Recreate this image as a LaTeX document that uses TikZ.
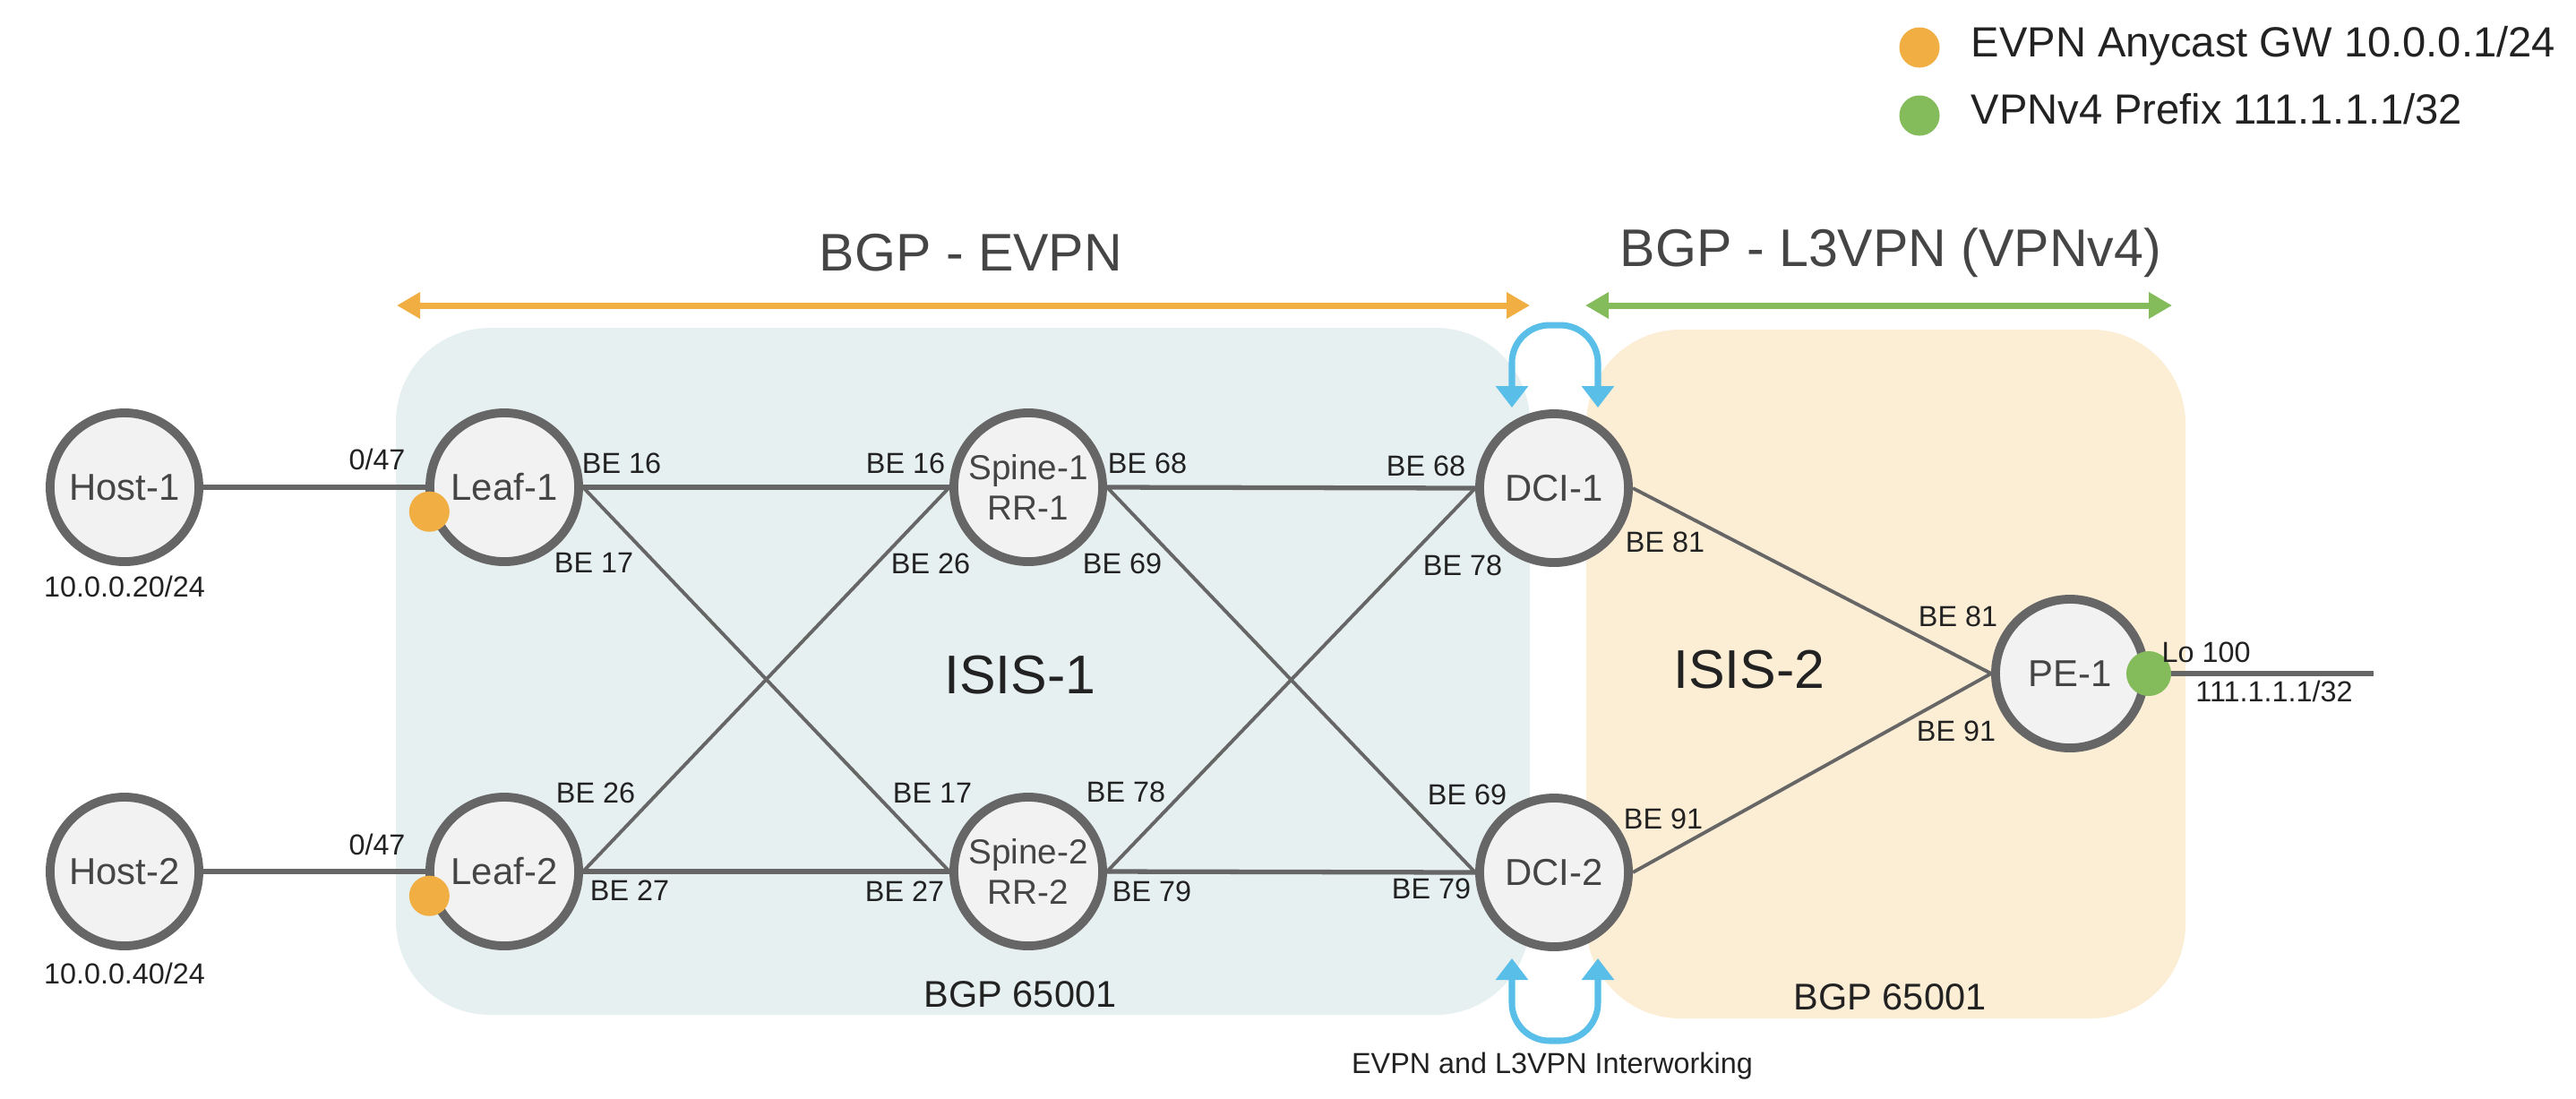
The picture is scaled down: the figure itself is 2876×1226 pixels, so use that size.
\documentclass[tikz,border=0pt]{standalone}
\usepackage{fontspec}
\setmainfont{Liberation Sans}
\usetikzlibrary{arrows.meta,calc}
\definecolor{nodegray}{HTML}{666666}
\definecolor{nodefill}{HTML}{F2F2F2}
\definecolor{evpnorange}{HTML}{F0AE43}
\definecolor{vpngreen}{HTML}{84BC5B}
\definecolor{loopblue}{HTML}{59BEE8}
\definecolor{bluezone}{HTML}{E7F0F1}
\definecolor{orangezone}{HTML}{FCEDD5}
\definecolor{textdark}{HTML}{222222}
\definecolor{textgray}{HTML}{454545}
\begin{document}
\begin{tikzpicture}[x=0.01cm,y=-0.01cm,
  router/.style={circle, draw=nodegray, line width=2.8pt, fill=nodefill, minimum size=1.66cm, inner sep=0pt,
    font=\fontsize{11.9}{13}\selectfont, text=textgray, align=center},
  spinebox/.style={router, font=\fontsize{11}{13}\selectfont},
  lbl/.style={font=\fontsize{9.2}{11}\selectfont, text=textdark, inner sep=0pt},
  zonelbl/.style={font=\fontsize{11.8}{13}\selectfont, text=textdark, inner sep=0pt},
  isislbl/.style={font=\fontsize{17.3}{19}\selectfont, text=textdark, inner sep=0pt},
  titlelbl/.style={font=\fontsize{16.8}{19}\selectfont, text=textgray, inner sep=0pt},
  legendlbl/.style={font=\fontsize{13.4}{15}\selectfont, text=textdark, inner sep=0pt},
  hlink/.style={draw=nodegray, line width=1.5pt},
  dlink/.style={draw=nodegray, line width=1.1pt},
  span/.style={line width=2pt, {Triangle[width=0.28cm,length=0.26cm]}-{Triangle[width=0.28cm,length=0.26cm]}},
  loopline/.style={draw=loopblue, line width=2pt, rounded corners=0.42cm,
    {Triangle[width=0.35cm,length=0.24cm]}-{Triangle[width=0.35cm,length=0.24cm]}},
  dot/.style={circle, inner sep=0pt, minimum size=0.45cm, draw=none}
]
\useasboundingbox (0,0) rectangle (2876,1226);

% zones
\fill[bluezone, rounded corners=1.05cm] (442,366) rectangle (1708,1133);
\fill[orangezone, rounded corners=1.05cm] (1771,368) rectangle (2440,1137);

% spans
\coordinate (evpnL) at (443,341);
\coordinate (evpnR) at (1708,341);
\coordinate (vpnL) at (1770,341);
\coordinate (vpnR) at (2425,341);
\draw[span, draw=evpnorange, fill=evpnorange] (evpnL) -- (evpnR);
\draw[span, draw=vpngreen, fill=vpngreen] (vpnL) -- (vpnR);
\node[titlelbl] (t-evpn) at (1084,282) {BGP - EVPN};
\node[titlelbl] (t-vpn) at (2111,282) {BGP - L3VPN (VPNv4)};

% routers
\node[router] (host1) at (139,544) {Host-1};
\node[router] (host2) at (139,973) {Host-2};
\node[router] (leaf1) at (563,544) {Leaf-1};
\node[router] (leaf2) at (563,973) {Leaf-2};
\node[spinebox] (spine1) at (1148,544) {Spine-1\\RR-1};
\node[spinebox] (spine2) at (1148,973) {Spine-2\\RR-2};
\node[router] (dci1) at (1735,545) {DCI-1};
\node[router] (dci2) at (1735,974) {DCI-2};
\node[router] (pe1) at (2311,752) {PE-1};
\coordinate (loend) at (2650,752);

% links
\draw[hlink] (host1.east) -- (leaf1.west);
\draw[hlink] (host2.east) -- (leaf2.west);
\draw[hlink] (leaf1.east) -- (spine1.west);
\draw[hlink] (leaf2.east) -- (spine2.west);
\draw[hlink] (spine1.east) -- (dci1.west);
\draw[hlink] (spine2.east) -- (dci2.west);
\draw[dlink] (leaf1.east) -- (spine2.west);
\draw[dlink] (leaf2.east) -- (spine1.west);
\draw[dlink] (spine1.east) -- (dci2.west);
\draw[dlink] (spine2.east) -- (dci1.west);
\draw[dlink] (dci1.east) -- (pe1.west);
\draw[dlink] (dci2.east) -- (pe1.west);
\draw[hlink] (pe1.east) -- (loend);

% interworking loops
\draw[loopline] ([xshift=-0.47cm,yshift=0.02cm]dci1.north) -- ++(0,-92) -- ++(96,0) -- ++(0,92);
\draw[loopline] ([xshift=-0.47cm,yshift=-0.08cm]dci2.south) -- ++(0,92) -- ++(96,0) -- ++(0,-92);

% dots
\node[dot, fill=evpnorange] (gw1) at (leaf1.198) {};
\node[dot, fill=evpnorange] (gw2) at (leaf2.198) {};
\node[dot, fill=vpngreen, minimum size=0.5cm] (pfx) at (pe1.east) {};

% labels
\node[lbl] (h1ip) at (139,655) {10.0.0.20/24};
\node[lbl] (h2ip) at (139,1087) {10.0.0.40/24};
\node[lbl] (p1) at (421,513) {0/47};
\node[lbl] (p2) at (421,943) {0/47};
\node[lbl] (a1) at (694,517) {BE 16};
\node[lbl] (a2) at (663,628) {BE 17};
\node[lbl] (a3) at (1011,517) {BE 16};
\node[lbl] (a4) at (1039,629) {BE 26};
\node[lbl] (a5) at (1281,517) {BE 68};
\node[lbl] (a6) at (1253,629) {BE 69};
\node[lbl] (a7) at (1592,520) {BE 68};
\node[lbl] (a8) at (1633,631) {BE 78};
\node[lbl] (a9) at (1859,605) {BE 81};
\node[lbl] (b1) at (665,885) {BE 26};
\node[lbl] (b2) at (703,994) {BE 27};
\node[lbl] (b3) at (1041,885) {BE 17};
\node[lbl] (b4) at (1010,995) {BE 27};
\node[lbl] (b5) at (1257,884) {BE 78};
\node[lbl] (b6) at (1286,995) {BE 79};
\node[lbl] (b7) at (1638,887) {BE 69};
\node[lbl] (b8) at (1598,992) {BE 79};
\node[lbl] (b9) at (1857,914) {BE 91};
\node[lbl] (c1) at (2186,688) {BE 81};
\node[lbl] (c2) at (2184,816) {BE 91};
\node[lbl, anchor=west] (lo) at (2413,728) {Lo 100};
\node[lbl] (loip) at (2539,772) {111.1.1.1/32};
\node[isislbl] (isis1) at (1139,754) {ISIS-1};
\node[isislbl] (isis2) at (1953,748) {ISIS-2};
\node[zonelbl] (as1) at (1139,1110) {BGP 65001};
\node[zonelbl] (as2) at (2110,1113) {BGP 65001};
\node[lbl] (iw) at (1733,1190) {EVPN and L3VPN Interworking};

% legend
\node[dot, fill=evpnorange] (leg1) at (2143,53) {};
\node[dot, fill=vpngreen] (leg2) at (2143,129) {};
\node[legendlbl, anchor=base west] (leg1t) at (2200,63) {EVPN Anycast GW 10.0.0.1/24};
\node[legendlbl, anchor=base west] (leg2t) at (2200,138) {VPNv4 Prefix 111.1.1.1/32};
\end{tikzpicture}
\end{document}
